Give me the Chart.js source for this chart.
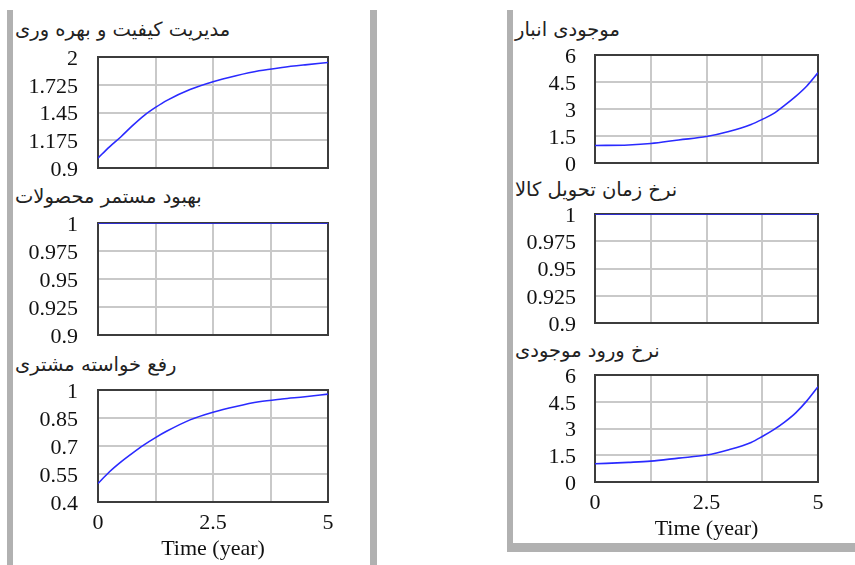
<!DOCTYPE html>
<html>
<head>
<meta charset="utf-8">
<script src="https://cdn.jsdelivr.net/npm/chart.js@4/dist/chart.umd.min.js"></script>
<style>
  html, body { margin: 0; padding: 0; background: #fff; }
  #page { position: relative; width: 855px; height: 565px; overflow: hidden; background: #fff; }
  .bar { position: absolute; background: #b1b1b1; }
  .ttl { position: absolute; font-family: "DejaVu Sans", sans-serif; font-size: 19.5px; line-height: 24px;
         color: #222; white-space: nowrap; direction: rtl; }
  canvas { position: absolute; }
</style>
</head>
<body>
<div id="page">
  <!-- panel frames -->
  <div class="bar" style="left:7px;top:10px;width:6px;height:555px"></div>
  <div class="bar" style="left:370px;top:10px;width:7px;height:555px"></div>
  <div class="bar" style="left:507px;top:10px;width:6px;height:542px"></div>
  <div class="bar" style="left:507px;top:543px;width:348px;height:9px"></div>

  <div class="ttl" style="left:15px;top:18px">مدیریت کیفیت و بهره وری</div>
  <div class="ttl" style="left:15px;top:185px">بهبود مستمر محصولات</div>
  <div class="ttl" style="left:15px;top:353px">رفع خواسته مشتری</div>
  <div class="ttl" style="left:515px;top:18px">موجودی انبار</div>
  <div class="ttl" style="left:515px;top:178px">نرخ زمان تحویل کالا</div>
  <div class="ttl" style="left:515px;top:339px">نرخ ورود موجودی</div>
</div>
<script>
// Simulation output (years) read per variable
const timesA = [0, 0.25, 0.5, 0.75, 1, 1.25, 1.5, 2, 2.5, 3, 3.5, 4, 4.5, 5];
const qualityMgmt = [0.998, 1.11, 1.21, 1.32, 1.42, 1.50, 1.57, 1.677, 1.755, 1.814, 1.863, 1.896, 1.922, 1.945];
const customerNeed = [0.499, 0.562, 0.615, 0.662, 0.706, 0.745, 0.78, 0.84, 0.881, 0.912, 0.937, 0.952, 0.964, 0.978];

const timesB = [0, 0.75, 1.25, 1.875, 2.5, 3, 3.5, 3.75, 4, 4.25, 4.5, 4.75, 5];
const inventory = [0.97, 1.0, 1.08, 1.28, 1.47, 1.75, 2.14, 2.42, 2.74, 3.2, 3.7, 4.28, 5.01];
const inflowRate = [1.02, 1.1, 1.17, 1.34, 1.51, 1.81, 2.22, 2.55, 2.92, 3.36, 3.88, 4.55, 5.34];

const timesC = [0, 2.5, 5];
const productImprovement = [1, 1, 1];
const deliveryRate = [1, 1, 1];

// axis ticks
const xTicks = [0, 1.25, 2.5, 3.75, 5];
const xTickLabels = ['0', '', '2.5', '', '5'];
const yTicksQuality = [0.9, 1.175, 1.45, 1.725, 2];
const yLabelsQuality = ['0.9', '1.175', '1.45', '1.725', '2'];
const yTicksUnit = [0.9, 0.925, 0.95, 0.975, 1];
const yLabelsUnit = ['0.9', '0.925', '0.95', '0.975', '1'];
const yTicksNeed = [0.4, 0.55, 0.7, 0.85, 1];
const yLabelsNeed = ['0.4', '0.55', '0.7', '0.85', '1'];
const yTicksStock = [0, 1.5, 3, 4.5, 6];
const yLabelsStock = ['0', '1.5', '3', '4.5', '6'];

const SERIF = '"Liberation Serif", "Times New Roman", serif';
const Y_AXIS_W = 90;

// plot frame drawn under the data line
const framePlugin = {
  id: 'plotFrame',
  beforeDatasetsDraw(chart) {
    const a = chart.chartArea, c = chart.ctx;
    c.save();
    c.strokeStyle = '#3c3c3c';
    c.lineWidth = 2;
    c.strokeRect(a.left, a.top, a.right - a.left, a.bottom - a.top);
    c.restore();
  }
};

function noOverflow(s) {
  s.paddingTop = 0; s.paddingBottom = 0; s.paddingLeft = 0; s.paddingRight = 0;
}

function plot(box, times, values, yTicks, yLabels, withTimeAxis, labelGap) {
  const xh = withTimeAxis ? 60 : 12;
  const cv = document.createElement('canvas');
  const w = (box.r - box.l) + Y_AXIS_W + 20;
  const h = (box.b - box.t) + 20 + xh;
  cv.width = w; cv.height = h;
  cv.style.left = (box.l - Y_AXIS_W) + 'px';
  cv.style.top = (box.t - 20) + 'px';
  cv.style.width = w + 'px'; cv.style.height = h + 'px';
  document.getElementById('page').appendChild(cv);

  new Chart(cv, {
    type: 'line',
    data: {
      datasets: [{
        data: times.map((t, i) => ({ x: t, y: values[i] })),
        borderColor: '#2a2aff',
        borderWidth: 1.6,
        pointRadius: 0,
        cubicInterpolationMode: 'monotone',
        fill: false
      }]
    },
    options: {
      responsive: false,
      animation: false,
      devicePixelRatio: 1,
      layout: { padding: { top: 20, right: 20, left: 0, bottom: 0 } },
      plugins: { legend: { display: false }, tooltip: { enabled: false }, title: { display: false } },
      scales: {
        x: {
          type: 'linear', min: 0, max: 5,
          afterBuildTicks: s => { s.ticks = xTicks.map(v => ({ value: v })); },
          afterFit: s => { s.height = xh; noOverflow(s); },
          grid: { color: '#c9c9c9', lineWidth: 2, drawTicks: false },
          border: { display: false },
          ticks: {
            display: withTimeAxis,
            padding: 8,
            maxRotation: 0,
            autoSkip: false,
            color: '#111',
            font: { family: SERIF, size: 22 },
            callback: (v, i) => xTickLabels[i]
          },
          title: {
            display: withTimeAxis,
            text: 'Time (year)',
            color: '#111',
            padding: { top: 0, bottom: 0 },
            font: { family: SERIF, size: 22 }
          }
        },
        y: {
          type: 'linear', min: yTicks[0], max: yTicks[yTicks.length - 1],
          afterBuildTicks: s => { s.ticks = yTicks.map(v => ({ value: v })); },
          afterFit: s => { s.width = Y_AXIS_W; noOverflow(s); },
          grid: { color: '#c9c9c9', lineWidth: 2, drawTicks: false },
          border: { display: false },
          ticks: {
            padding: labelGap,
            labelOffset: 2,
            autoSkip: false,
            color: '#111',
            font: { family: SERIF, size: 22 },
            callback: (v, i) => yLabels[i]
          }
        }
      }
    },
    plugins: [framePlugin]
  });
}

plot({ l: 98, t: 57, r: 328, b: 168 }, timesA, qualityMgmt, yTicksQuality, yLabelsQuality, false, 20);
plot({ l: 98, t: 223, r: 328, b: 335 }, timesC, productImprovement, yTicksUnit, yLabelsUnit, false, 20);
plot({ l: 98, t: 390, r: 328, b: 502 }, timesA, customerNeed, yTicksNeed, yLabelsNeed, true, 20);
plot({ l: 595, t: 55, r: 818, b: 163 }, timesB, inventory, yTicksStock, yLabelsStock, false, 19);
plot({ l: 595, t: 214, r: 818, b: 323 }, timesC, deliveryRate, yTicksUnit, yLabelsUnit, false, 19);
plot({ l: 595, t: 375, r: 818, b: 482 }, timesB, inflowRate, yTicksStock, yLabelsStock, true, 19);
</script>
</body>
</html>
